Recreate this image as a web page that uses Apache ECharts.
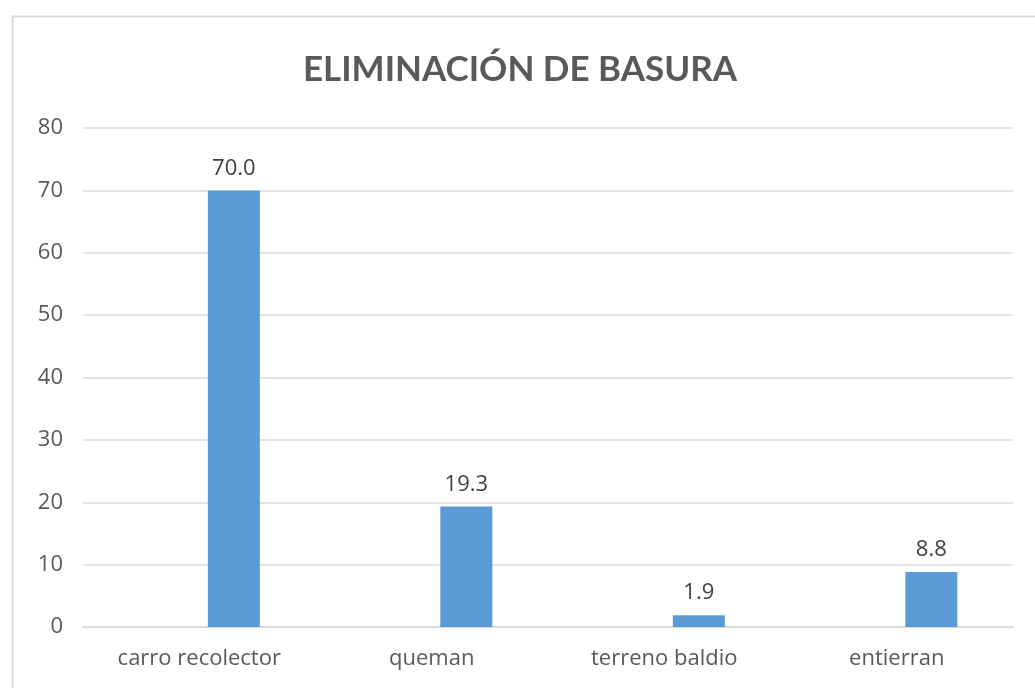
<!DOCTYPE html>
<html>
<head>
<meta charset="utf-8">
<script src="https://cdn.jsdelivr.net/npm/echarts@6/dist/echarts.min.js"></script>
<style>
  html, body { margin: 0; padding: 0; background: #fff; }
  #chart { width: 1035px; height: 688px; }
</style>
</head>
<body>
<div id="chart"></div>
<script>
const categories = ["carro recolector", "queman", "terreno baldio", "entierran"];
const values = [70.0, 19.3, 1.9, 8.8];
const emptySeries = [null, null, null, null]; // blank first series of the cluster
const yTicks = { min: 0, max: 80, interval: 10 };

const chart = echarts.init(document.getElementById("chart"));
const font = "'Open Sans', sans-serif";

chart.setOption({
  animation: false,
  title: {
    text: "ELIMINACIÓN DE BASURA",
    left: 515,
    textAlign: "center",
    top: 47,
    textStyle: {
      fontFamily: "Lato, sans-serif",
      fontSize: 35,
      fontWeight: "bold",
      color: "#595959",
    },
  },
  graphic: [
    {
      type: "rect",
      shape: { x: 12.5, y: 16.5, width: 1040, height: 700 },
      style: { fill: "none", stroke: "#d9d9d9", lineWidth: 2 },
      silent: true,
    },
  ],
  grid: {
    left: 83,
    right: 22,
    top: 128,
    bottom: 61,
    containLabel: false,
  },
  xAxis: {
    type: "category",
    data: categories,
    axisLine: { show: true, lineStyle: { color: "#d9d9d9", width: 1.5 } },
    axisTick: { show: false },
    axisLabel: {
      color: "#595959",
      fontFamily: font,
      fontSize: 22,
      margin: 21,
    },
  },
  yAxis: {
    type: "value",
    min: yTicks.min,
    max: yTicks.max,
    interval: yTicks.interval,
    axisLine: { show: false },
    axisTick: { show: false },
    axisLabel: {
      color: "#595959",
      fontFamily: font,
      fontSize: 22,
      margin: 20,
    },
    splitLine: {
      show: true,
      lineStyle: { color: "#d9d9d9", width: 1.5 },
    },
  },
  series: [
    {
      type: "bar",
      name: "",
      data: emptySeries,
      barWidth: 52,
      barGap: "33%",
    },
    {
      type: "bar",
      name: "Serie",
      data: values,
      barWidth: 52,
      barGap: "33%",
      itemStyle: { color: "#5b9bd5" },
      label: {
        show: true,
        position: "top",
        distance: 11,
        color: "#404040",
        fontFamily: font,
        fontSize: 22,
        formatter: (p) => p.value.toFixed(1),
      },
    },
  ],
});
</script>
</body>
</html>
